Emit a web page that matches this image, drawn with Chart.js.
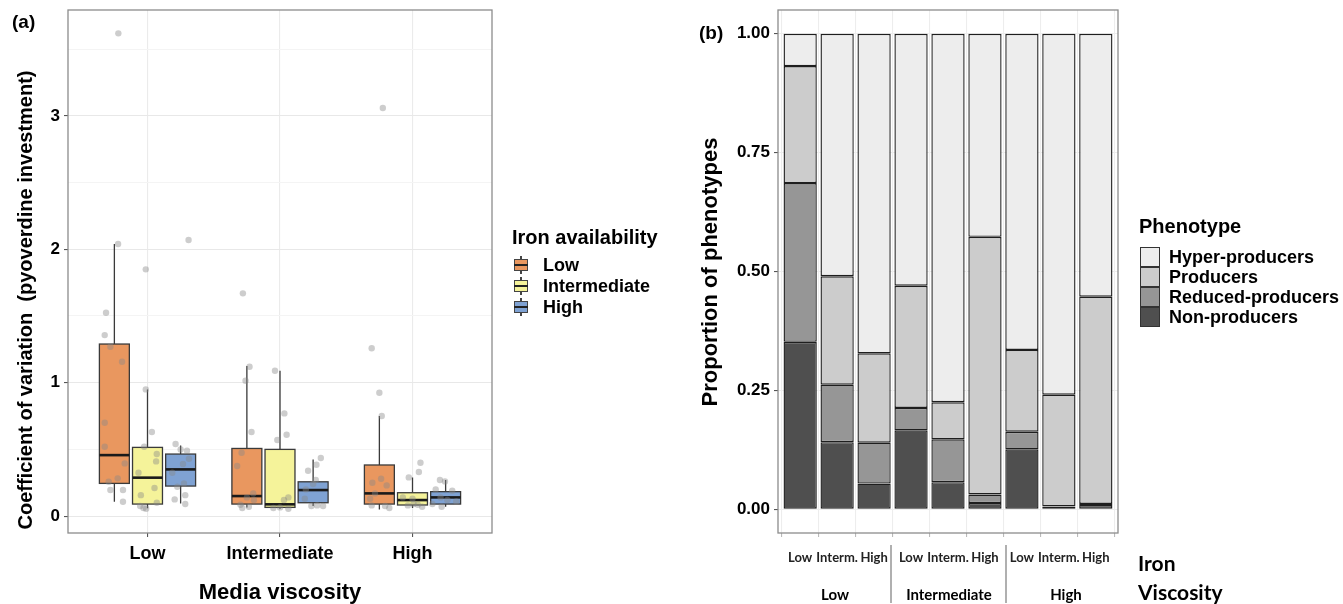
<!DOCTYPE html>
<html>
<head>
<meta charset="utf-8">
<script src="https://cdn.jsdelivr.net/npm/chart.js@4.4.1/dist/chart.umd.min.js"></script>
<style>
  body { margin:0; background:#fff; width:1343px; height:604px; overflow:hidden; position:relative;
         font-family:"Liberation Sans", Arial, sans-serif; color:#000; }
  .t { position:absolute; white-space:nowrap; font-weight:bold; line-height:1; }
  .c { transform:translate(-50%,-50%); }
  .l { transform:translateY(-50%); }
  .rot { transform:translate(-50%,-50%) rotate(-90deg); }
  .cal { font-family:Lato, "Open Sans", sans-serif; }
  #wrapA { position:absolute; left:0; top:0; width:680px; height:604px; }
  #wrapB { position:absolute; left:680px; top:0; width:663px; height:604px; }
  .sep { position:absolute; width:1.5px; background:#b0b0b0; top:545px; height:58px; }
  .bkey { position:absolute; width:14px; height:18px; }
  .bkey .w { position:absolute; left:6px; top:0; width:1.5px; height:18px; background:#444; }
  .bkey .b { position:absolute; left:0; top:3px; width:12px; height:10px; border:1px solid #444; }
  .bkey .m { position:absolute; left:0; top:8px; width:14px; height:2px; background:#222; }
  .skey { position:absolute; width:18px; height:18px; border:1px solid #333; }
</style>
</head>
<body>
<div id="wrapA"><canvas id="chartA" width="680" height="604"></canvas></div>
<div id="wrapB"><canvas id="chartB" width="663" height="604"></canvas></div>

<div class="t l" style="left:12px;top:21px;font-size:19px;">(a)</div>
<div class="t rot" style="left:25px;top:300px;font-size:20px;">Coefficient of variation&nbsp; (pyoverdine investment)</div>
<div class="t c" style="left:280px;top:592px;font-size:22px;">Media viscosity</div>

<div class="t l" style="left:512px;top:237px;font-size:20px;">Iron availability</div>
<div id="legendA"></div>

<div class="t l" style="left:699px;top:32px;font-size:19px;">(b)</div>
<div class="t rot" style="left:710px;top:272px;font-size:22px;">Proportion of phenotypes</div>

<div class="t l" style="left:1139px;top:226px;font-size:20px;">Phenotype</div>
<div id="legendB"></div>

<div class="sep" style="left:890px;"></div>
<div class="sep" style="left:1005px;"></div>
<div id="groupLabels"></div>
<div class="t l cal" style="left:1138px;top:562px;font-size:21px;">Iron</div>
<div class="t l cal" style="left:1138px;top:591px;font-size:21px;">Viscosity</div>

<script>
// ---- panel (a) data ----
const viscosityLabels = ['Low', 'Intermediate', 'High'];
const ironLevels = ['Low', 'Intermediate', 'High'];
const ironColors = ['#E9975F', '#F5F39A', '#7FA2D3'];
const ironOffset = [-0.25, 0, 0.25];
const yTicksA = [0, 0.5, 1, 1.5, 2, 2.5, 3, 3.5];

// box statistics: [viscosity][iron]
const whiskerLow  = [[0.107, 0.058, 0.095], [0.065, 0.055, 0.075], [0.05, 0.06, 0.07]];
const boxQ1       = [[0.245, 0.09, 0.225], [0.09, 0.065, 0.10], [0.09, 0.083, 0.09]];
const boxMedian   = [[0.457, 0.288, 0.35], [0.15, 0.088, 0.195], [0.17, 0.12, 0.14]];
const boxQ3       = [[1.29, 0.515, 0.465], [0.507, 0.50, 0.257], [0.383, 0.175, 0.183]];
const whiskerHigh = [[2.04, 0.95, 0.53], [1.125, 1.09, 0.425], [0.75, 0.29, 0.27]];

// raw replicate points: [viscosity index, jitter, value]
const lowIronPoints = [
  [0, 0.03, 3.62], [0, 0.028, 2.04], [0, -0.063, 1.525], [0, -0.073, 1.357], [0, -0.03, 1.27],
  [0, 0.058, 1.157], [0, -0.073, 0.70], [0, -0.073, 0.52], [0, 0.078, 0.395], [0, 0.025, 0.283],
  [0, -0.043, 0.257], [0, -0.03, 0.195], [0, 0.065, 0.195], [0, 0.065, 0.107],
  [1, -0.03, 1.67], [1, 0.02, 1.12], [1, -0.01, 1.015], [1, 0.035, 0.63], [1, -0.04, 0.475],
  [1, -0.073, 0.375], [1, 0.048, 0.17], [1, 0, 0.14], [1, 0.053, 0.12], [1, -0.048, 0.085],
  [1, -0.035, 0.06], [1, 0.015, 0.07],
  [2, 0.026, 3.06], [2, -0.058, 1.258], [2, 0, 0.925], [2, 0.018, 0.75], [2, 0.013, 0.28],
  [2, -0.053, 0.25], [2, 0.055, 0.23], [2, -0.033, 0.17], [2, -0.07, 0.13], [2, -0.058, 0.08],
  [2, 0.043, 0.075], [2, 0.075, 0.06]
];
const intIronPoints = [
  [0, -0.013, 1.85], [0, -0.013, 0.95], [0, 0.033, 0.63], [0, -0.025, 0.52], [0, 0.07, 0.465],
  [0, 0.065, 0.41], [0, -0.068, 0.325], [0, 0.053, 0.21], [0, -0.05, 0.157], [0, 0.07, 0.10],
  [0, -0.055, 0.075], [0, -0.03, 0.06], [0, -0.01, 0.055],
  [1, -0.038, 1.09], [1, 0.033, 0.77], [1, 0.05, 0.61], [1, -0.02, 0.57], [1, 0.063, 0.14],
  [1, 0.03, 0.12], [1, -0.05, 0.06], [1, 0.063, 0.055], [1, 0, 0.065],
  [2, 0.06, 0.40], [2, 0.048, 0.33], [2, -0.028, 0.29], [2, -0.073, 0.14], [2, 0, 0.13],
  [2, 0.04, 0.085], [2, 0.073, 0.07], [2, -0.035, 0.08], [2, 0.008, 0.09]
];
const highIronPoints = [
  [0, 0.06, 2.07], [0, -0.038, 0.54], [0, 0.048, 0.49], [0, 0, 0.50], [0, 0.063, 0.43],
  [0, 0.018, 0.39], [0, -0.063, 0.325], [0, 0.025, 0.245], [0, -0.025, 0.22], [0, 0.035, 0.157],
  [0, -0.045, 0.125], [0, 0.035, 0.09],
  [1, 0.058, 0.435], [1, 0.025, 0.385], [1, -0.038, 0.34], [1, 0.02, 0.27], [1, 0, 0.24],
  [1, -0.055, 0.20], [1, -0.063, 0.13], [1, -0.013, 0.075], [1, 0.03, 0.08], [1, 0.075, 0.075],
  [2, -0.043, 0.27], [2, -0.005, 0.26], [2, -0.075, 0.20], [2, 0.05, 0.19], [2, -0.038, 0.14],
  [2, 0.013, 0.12], [2, -0.1, 0.09], [2, -0.03, 0.07], [2, 0.08, 0.11]
];

// ---- panel (b) data ----
const ironTickLabels = ['Low', 'Interm.', 'High', 'Low', 'Interm.', 'High', 'Low', 'Interm.', 'High'];
const viscosityGroups = ['Low', 'Intermediate', 'High'];
const phenotypes = ['Hyper-producers', 'Producers', 'Reduced-producers', 'Non-producers'];
const phenotypeColors = ['#EDEDED', '#CCCCCC', '#969696', '#4F4F4F'];
const nonProducers     = [0.352, 0.141, 0.054, 0.166, 0.057, 0.013, 0.126, 0.005, 0.009];
const reducedProducers = [0.334, 0.121, 0.086, 0.047, 0.090, 0.018, 0.037, 0.001, 0.002];
const producers        = [0.246, 0.228, 0.188, 0.257, 0.078, 0.542, 0.172, 0.235, 0.436];
const hyperProducers   = [0.068, 0.510, 0.672, 0.530, 0.775, 0.427, 0.665, 0.759, 0.553];
const yTicksB = [0, 0.25, 0.5, 0.75, 1];

// ---------- helpers ----------
function toScatter(points, iron) {
  return points.map(p => ({ x: p[0] + 1 + ironOffset[iron] + p[1], y: p[2] }));
}

// y axis: fixed width, no extra label padding so the plot top stays at the layout padding
function fixY(width) {
  return s => { s.width = width; s.paddingTop = 0; s.paddingBottom = 0; };
}

const frame = {
  id: 'frame',
  afterDraw(chart) {
    const a = chart.chartArea, ctx = chart.ctx;
    ctx.save();
    ctx.strokeStyle = '#8c8c8c';
    ctx.lineWidth = 1.3;
    ctx.strokeRect(a.left, a.top, a.right - a.left, a.bottom - a.top);
    ctx.restore();
  }
};

const boxes = {
  id: 'boxes',
  beforeDatasetsDraw(chart) {
    const ctx = chart.ctx, x = chart.scales.x, y = chart.scales.y;
    const half = 0.113;
    ctx.save();
    for (let v = 0; v < 3; v++) {
      for (let i = 0; i < 3; i++) {
        const cx = v + 1 + ironOffset[i];
        const xl = x.getPixelForValue(cx - half);
        const xr = x.getPixelForValue(cx + half);
        const xm = x.getPixelForValue(cx);
        const yLo = y.getPixelForValue(whiskerLow[v][i]);
        const yQ1 = y.getPixelForValue(boxQ1[v][i]);
        const yMd = y.getPixelForValue(boxMedian[v][i]);
        const yQ3 = y.getPixelForValue(boxQ3[v][i]);
        const yHi = y.getPixelForValue(whiskerHigh[v][i]);
        ctx.strokeStyle = '#3a3a3a';
        ctx.lineWidth = 1.3;
        ctx.beginPath();
        ctx.moveTo(xm, yHi); ctx.lineTo(xm, yQ3);
        ctx.moveTo(xm, yQ1); ctx.lineTo(xm, yLo);
        ctx.stroke();
        ctx.fillStyle = ironColors[i];
        ctx.fillRect(xl, yQ3, xr - xl, yQ1 - yQ3);
        ctx.strokeRect(xl, yQ3, xr - xl, yQ1 - yQ3);
        ctx.strokeStyle = '#1a1a1a';
        ctx.lineWidth = 2.6;
        ctx.beginPath();
        ctx.moveTo(xl, yMd); ctx.lineTo(xr, yMd);
        ctx.stroke();
      }
    }
    ctx.restore();
  }
};

const boldTick = size => ({ family: '"Liberation Sans", Arial, sans-serif', weight: 'bold', size: size });

// ---------- panel (a) ----------
new Chart(document.getElementById('chartA'), {
  type: 'scatter',
  data: {
    datasets: [
      { data: toScatter(lowIronPoints, 0) },
      { data: toScatter(intIronPoints, 1) },
      { data: toScatter(highIronPoints, 2) }
    ].map(d => Object.assign(d, {
      pointRadius: 3.2, pointBackgroundColor: 'rgba(135,135,135,0.42)', pointBorderWidth: 0
    }))
  },
  options: {
    responsive: false,
    animation: false,
    layout: { padding: { left: 0, top: 10, right: 188, bottom: 0 } },
    plugins: { legend: { display: false }, tooltip: { enabled: false } },
    scales: {
      x: {
        type: 'linear', min: 0.4, max: 3.6,
        afterBuildTicks: s => { s.ticks = [1, 2, 3].map(v => ({ value: v })); },
        afterFit: s => { s.height = 71; },
        ticks: { callback: v => viscosityLabels[v - 1], font: boldTick(18), color: '#000', padding: 6,
                 autoSkip: false, maxRotation: 0 },
        grid: { color: '#EBEBEB', lineWidth: 1.1, tickLength: 4, tickColor: '#555' },
        border: { display: false }
      },
      y: {
        min: -0.127, max: 3.795,
        afterBuildTicks: s => { s.ticks = yTicksA.map(v => ({ value: v })); },
        afterFit: fixY(68),
        ticks: { callback: v => Number.isInteger(v) ? v : '', font: boldTick(17), color: '#000', padding: 4 },
        grid: {
          color: c => Number.isInteger(c.tick.value) ? '#E8E8E8' : '#F4F4F4',
          tickColor: c => Number.isInteger(c.tick.value) ? '#555' : 'rgba(0,0,0,0)',
          lineWidth: 1.1, tickLength: 4
        },
        border: { display: false }
      }
    }
  },
  plugins: [boxes, frame]
});

// ---------- panel (b) ----------
const seriesB = [nonProducers, reducedProducers, producers, hyperProducers];
new Chart(document.getElementById('chartB'), {
  type: 'bar',
  data: {
    datasets: seriesB.map((vals, k) => ({
      label: phenotypes[3 - k],
      data: vals.map((v, i) => ({ x: i, y: v })),
      backgroundColor: phenotypeColors[3 - k],
      borderColor: '#1e1e1e',
      borderWidth: 1.4,
      borderSkipped: false,
      barPercentage: 0.9,
      categoryPercentage: 1.0
    }))
  },
  options: {
    responsive: false,
    animation: false,
    layout: { padding: { left: 0, top: 10, right: 225, bottom: 0 } },
    plugins: { legend: { display: false }, tooltip: { enabled: false } },
    scales: {
      x: {
        type: 'linear', min: -0.6, max: 8.6, stacked: true, offset: false,
        afterBuildTicks: s => { s.ticks = ironTickLabels.map((l, i) => ({ value: i })); },
        afterFit: s => { s.height = 71; },
        ticks: { callback: v => ironTickLabels[v], font: { family: 'Lato, "Open Sans", sans-serif', weight: 'bold', size: 13 },
                 color: '#222', padding: 13, autoSkip: false, maxRotation: 0 },
        grid: { color: '#EDEDED', lineWidth: 1.1, tickLength: 4, tickColor: '#bbb' },
        border: { display: false }
      },
      y: {
        stacked: true, min: -0.05, max: 1.05,
        afterBuildTicks: s => { s.ticks = yTicksB.map(v => ({ value: v })); },
        afterFit: fixY(98),
        ticks: { callback: v => v.toFixed(2), font: boldTick(17), color: '#000', padding: 4 },
        grid: { color: '#EDEDED', lineWidth: 1.1, tickLength: 4, tickColor: '#555' },
        border: { display: false }
      }
    }
  },
  plugins: [frame]
});

// ---------- legends and group labels ----------
const legA = document.getElementById('legendA');
const rowA = [265, 286, 307];
ironLevels.forEach((name, i) => {
  legA.insertAdjacentHTML('beforeend',
    `<div class="bkey" style="left:514px;top:${rowA[i] - 9}px;"><div class="w"></div>` +
    `<div class="b" style="background:${ironColors[i]}"></div><div class="m"></div></div>` +
    `<div class="t l" style="left:543px;top:${rowA[i]}px;font-size:18px;">${name}</div>`);
});

const legB = document.getElementById('legendB');
phenotypes.forEach((name, i) => {
  const top = 247 + i * 20;
  legB.insertAdjacentHTML('beforeend',
    `<div class="skey" style="left:1140px;top:${top}px;background:${phenotypeColors[i]}"></div>` +
    `<div class="t l" style="left:1169px;top:${top + 10}px;font-size:18px;">${name}</div>`);
});

const groupCenters = [835, 949, 1066];
const gl = document.getElementById('groupLabels');
viscosityGroups.forEach((name, i) => {
  gl.insertAdjacentHTML('beforeend',
    `<div class="t c cal" style="left:${groupCenters[i]}px;top:594px;font-size:15px;">${name}</div>`);
});
</script>
</body>
</html>
